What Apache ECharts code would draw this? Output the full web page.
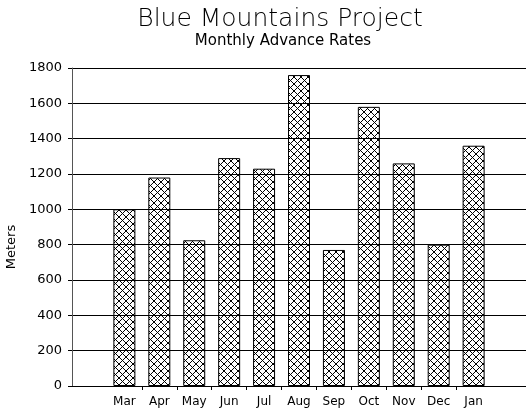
<!DOCTYPE html>
<html><head><meta charset="utf-8">
<script src="https://cdn.jsdelivr.net/npm/echarts@6/dist/echarts.min.js"></script>
<style>html,body{margin:0;padding:0;background:#fff}#c{width:526px;height:414px}</style>
</head><body><div id="c"></div>
<script>
const titleText = 'Blue Mountains Project';
const subtitleText = 'Monthly Advance Rates';
const yAxisName = 'Meters';
const months = ['Mar','Apr','May','Jun','Jul','Aug','Sep','Oct','Nov','Dec','Jan'];
const advance = [1000, 1180, 825, 1290, 1230, 1760, 770, 1580, 1260, 800, 1360];
const yTicks = [0, 200, 400, 600, 800, 1000, 1200, 1400, 1600, 1800];

// crosshatch pattern
const pc = document.createElement('canvas');
pc.width = 7; pc.height = 7;
const g = pc.getContext('2d');
g.strokeStyle = '#000'; g.lineWidth = 1;
g.beginPath();
g.moveTo(0,0); g.lineTo(7,7);
g.moveTo(7,0); g.lineTo(0,7);
g.stroke();

// padded category axis: one empty slot on each side
const cats = [''].concat(months, ['']);
const vals = [null].concat(advance, [null]);

const chart = echarts.init(document.getElementById('c'), null, {renderer:'canvas'});
chart.setOption({
  animation: false,
  backgroundColor: '#fff',
  textStyle: {fontFamily: 'DejaVu Sans'},
  graphic: [
    {type:'text', x:280, y:19, style:{text:titleText, fontFamily:'DejaVu Sans', fontWeight:200, fontSize:25, fill:'#000', textAlign:'center', textVerticalAlign:'middle'}},
    {type:'text', x:283, y:41, style:{text:subtitleText, fontFamily:'DejaVu Sans', fontSize:15, fill:'#000', textAlign:'center', textVerticalAlign:'middle'}},
    {type:'text', x:12, y:247, rotation:Math.PI/2, style:{text:yAxisName, fontFamily:'DejaVu Sans', fontSize:13, fill:'#000', textAlign:'center', textVerticalAlign:'middle'}}
  ],
  grid: {left:72, right:0, top:68, bottom:28, containLabel:false},
  xAxis: {
    type:'category', data: cats, boundaryGap:true,
    axisLine:{lineStyle:{color:'#000', width:1}},
    axisTick:{show:true, length:4, lineStyle:{color:'#000'},
      interval: function(i){ return i >= 2 && i <= 11; }},
    axisLabel:{color:'#000', fontSize:12, margin:10, fontFamily:'DejaVu Sans'},
    splitLine:{show:false}
  },
  yAxis: {
    type:'value', min: yTicks[0], max: yTicks[yTicks.length-1], interval: yTicks[1]-yTicks[0],
    axisLine:{show:true, lineStyle:{color:'#555', width:1}},
    axisTick:{show:true, length:4, lineStyle:{color:'#000'}},
    axisLabel:{color:'#000', fontSize:13, margin:10, fontFamily:'DejaVu Sans', formatter: function(v){ return String(v); }},
    splitLine:{show:true, lineStyle:{color:'#000', width:1}}
  },
  series: [{
    type:'bar', data: vals, barWidth:22, z:1,
    itemStyle:{color:{image: pc, repeat:'repeat'}, borderColor:'#000', borderWidth:1}
  }]
});
</script></body></html>
